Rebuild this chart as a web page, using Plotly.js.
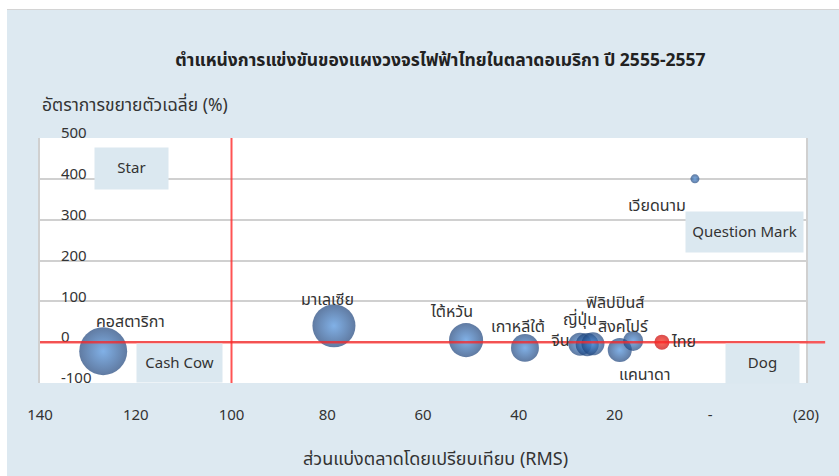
<!DOCTYPE html>
<html>
<head>
<meta charset="utf-8">
<script src="https://cdn.plot.ly/plotly-3.0.1.min.js"></script>
<style>
html,body{margin:0;padding:0;background:#ffffff;}
#wrap{position:absolute;left:7px;top:9px;width:832px;height:467px;border-top:1px solid #d4d4d4;}
#chart{width:832px;height:466px;}
</style>
</head>
<body>
<div id="wrap"><div id="chart"></div></div>
<script>
// ---- data ----
var countries = ["คอสตาริกา","มาเลเซีย","ไต้หวัน","เกาหลีใต้","จีน","ญี่ปุ่น","ฟิลิปปินส์","แคนาดา","สิงคโปร์","ไทย","เวียดนาม"];
var rms       = [126.8, 78.6, 51.0, 38.7, 27.2, 25.7, 24.5, 18.9, 16.1, 10.1, 3.2];
var growth    = [-22, 40, 5, -14, -5, -6, -4, -19, 3, 0, 400];
var bubbleVal = [23.0, 18.5, 11.6, 7.8, 5.3, 5.3, 5.3, 5.8, 4.0, 2.25, 0.8];
var xTickVals = [140, 120, 100, 80, 60, 40, 20, 0, -20];
var xTickText = ["140","120","100","80","60","40","20","-","(20)"];
var yTickVals = [-100, 0, 100, 200, 300, 400, 500];
var yTickText = ["-100","0","100","200","300","400","500"];
var quadrants = ["Star","Cash Cow","Question Mark","Dog"];

// ---- styling / layout helpers ----
var FONT = "Leelawadee UI, Tahoma, 'Noto Sans Thai', 'Noto Sans', sans-serif";
var labelOffsets = [[27,-29],[-6,-26],[-15,-28],[-7,-21],[-20,-3],[-7,-25],[22,-41],[25,25],[-10,-14],[22,0],[-38,27]];
var quadPos = [[0.119,0.876,73,41],[0.182,0.082,85,38],[0.920,0.616,117,40],[0.943,0.080,73,39]];

var isThai = countries.map(function(c){return c === "ไทย";});
var blueIdx = [], redIdx = [];
isThai.forEach(function(t,i){ (t ? redIdx : blueIdx).push(i); });
function pick(arr, idx){ return idx.map(function(i){return arr[i];}); }

var traces = [
  {
    type:'scatter', mode:'markers',
    x: pick(rms, blueIdx), y: pick(growth, blueIdx),
    marker:{size: pick(bubbleVal, blueIdx), sizemode:'area', sizeref:0.02,
      color:'#1c427a', gradient:{type:'radial', color:'#4b8fdc'}, line:{width:0}},
    hoverinfo:'skip', showlegend:false
  },
  {
    type:'scatter', mode:'markers',
    x: pick(rms, redIdx), y: pick(growth, redIdx),
    marker:{size: pick(bubbleVal, redIdx), sizemode:'area', sizeref:0.02,
      color:'#c80000', gradient:{type:'radial', color:'#ff2a14'}, line:{width:0}},
    hoverinfo:'skip', showlegend:false
  },
  { type:'scatter', mode:'markers', x:[null], y:[null], yaxis:'y2', hoverinfo:'skip', showlegend:false }
];

var annotations = [];
countries.forEach(function(c,i){
  annotations.push({
    xref:'x', yref:'y', x: rms[i], y: growth[i], text: c, showarrow:false,
    xshift: labelOffsets[i][0], yshift: -labelOffsets[i][1],
    xanchor:'center', yanchor:'middle',
    font:{family:FONT, size:16, color:'#333333'}
  });
});
quadrants.forEach(function(q,i){
  annotations.push({
    xref:'paper', yref:'paper', x: quadPos[i][0], y: quadPos[i][1], text: q, showarrow:false,
    xanchor:'center', yanchor:'middle', width: quadPos[i][2], height: quadPos[i][3],
    bgcolor:'#dbe8f0', borderpad:0, align:'center', valign:'middle',
    font:{family:FONT, size:15, color:'#333333'}
  });
});
annotations.push({
  xref:'paper', yref:'paper', x:0, y:1.131, xanchor:'left', yanchor:'middle', showarrow:false,
  text:'อัตราการขยายตัวเฉลี่ย (%)', font:{family:FONT, size:17.5, color:'#333333'}
});
annotations.push({
  xref:'paper', yref:'paper', x:0.516, y:-0.314, xanchor:'center', yanchor:'middle', showarrow:false,
  text:'ส่วนแบ่งตลาดโดยเปรียบเทียบ (RMS)', font:{family:FONT, size:18, color:'#333333'}
});

var layout = {
  width:832, height:466,
  margin:{l:33, r:33, t:128, b:93},
  paper_bgcolor:'#dde9f1', plot_bgcolor:'#ffffff',
  title:{text:'<b>ตำแหน่งการแข่งขันของแผงวงจรไฟฟ้าไทยในตลาดอเมริกา ปี 2555-2557</b>',
    x:0.521, xanchor:'center', xref:'container', y:0.893, yanchor:'middle', yref:'container',
    font:{family:FONT, size:17.5, color:'#222222'}},
  xaxis:{range:[140,-20], tickvals:xTickVals, ticktext:xTickText, showgrid:false, zeroline:false,
    ticks:'outside', ticklen:18, tickcolor:'rgba(0,0,0,0)', showline:false,
    tickfont:{family:FONT, size:15, color:'#333333'}, fixedrange:true},
  yaxis:{range:[-100,500], tickvals:yTickVals, showticklabels:false, showgrid:true,
    gridcolor:'#d0d0d0', gridwidth:2, zeroline:false, showline:true, linecolor:'#d0d0d0', linewidth:2,
    mirror:true, fixedrange:true},
  yaxis2:{range:[-100,500], tickvals:yTickVals, ticktext:yTickText, overlaying:'y', anchor:'free',
    side:'right', position:0.026, showgrid:false, zeroline:false, showline:false, ticks:'',
    ticklabelshift:-5, tickfont:{family:FONT, size:15, color:'#333333'}, fixedrange:true},
  shapes:[
    {type:'line', xref:'x', yref:'paper', x0:100, x1:100, y0:0, y1:1, line:{color:'rgba(255,40,40,0.8)', width:2}, layer:'above'},
    {type:'line', xref:'paper', yref:'paper', x0:0, x1:1.025, y0:1/6, y1:1/6, line:{color:'rgba(255,40,40,0.75)', width:2.5}, layer:'above'}
  ],
  annotations:annotations,
  showlegend:false, hovermode:false
};

Plotly.newPlot('chart', traces, layout, {displayModeBar:false, staticPlot:true});
</script>
</body>
</html>
